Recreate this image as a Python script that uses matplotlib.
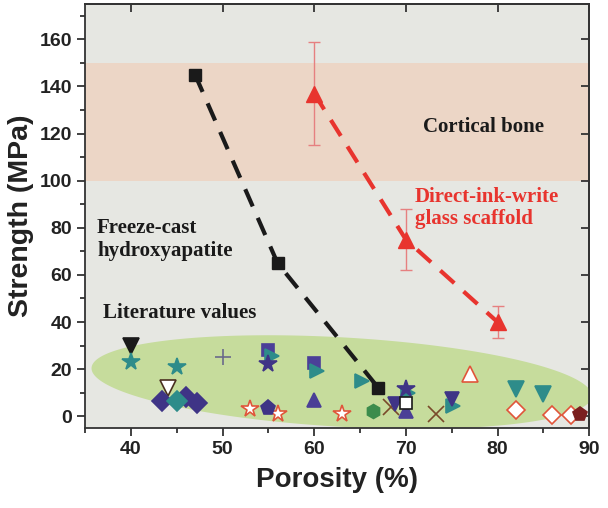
import numpy as np
import matplotlib.pyplot as plt
from matplotlib.ticker import MultipleLocator

# freeze-cast hydroxyapatite
fc_por = [47, 56, 67]
fc_str = [145, 65, 12]

# direct-ink-write glass scaffold
diw_por = [60, 70, 80]
diw_str = [137, 75, 40]
diw_err = [22, 13, 7]

# literature values, grouped by marker style
lit_black_dn = ([40], [30])
lit_teal_star = ([40, 45], [23, 21])
lit_plus = ([50], [25])
lit_white_dn = ([44], [12])
lit_purple_diamond = ([43.4, 46, 47.2], [6.5, 8, 5.5])
lit_teal_diamond = ([45], [6.5])
lit_white_star = ([53, 56, 63], [3, 1, 1])
lit_purple_square = ([55, 60], [28, 22.5])
lit_teal_right = ([55.4, 60.3, 65.2, 70.2, 75.1], [25.5, 19, 15, 10, 4.5])
lit_purple_star = ([55, 70], [22, 11.5])
lit_purple_up = ([60, 70], [7, 2.3])
lit_purple_pent = ([55], [3.4])
lit_green_hex = ([66.4], [2.3])
lit_brown_x = ([68.4, 73.3], [3.8, 1])
lit_purple_dn = ([68.8, 75], [5, 7.2])
lit_white_square = ([70], [5.5])
lit_white_up = ([77], [18])
lit_teal_dn = ([82, 85], [11.5, 9.6])
lit_white_diamond = ([82, 86, 88], [2.5, 0.5, 0.5])
lit_darkred_pent = ([89], [0.8])

bone_range = (100, 150)

BG = '#e6e7e2'
PEACH = '#ecd6c6'
GREEN = '#c6dc9c'
PURPLE = '#3f3486'
TEAL = '#2e8c8a'
RED = '#e8342e'
REDEDGE = '#e0553a'

plt.rcParams['font.family'] = ['Liberation Sans', 'DejaVu Sans']

fig = plt.figure(figsize=(6.08, 5.08), dpi=100)
ax = fig.add_axes([0.14, 0.1575, 0.829, 0.8345])
ax.set_facecolor(BG)
ax.set_xlim(35, 90)
ax.set_ylim(-5, 175)

ax.axhspan(*bone_range, color=PEACH, zorder=0, lw=0)

# tilted literature ellipse
cx, cy, ax_half, ay_half, slope = 63, 14.5, 27.3, 19.0, -0.214
t = np.linspace(0, 2 * np.pi, 300)
ex = cx + ax_half * np.cos(t)
ey = cy + ay_half * np.sin(t) + slope * (ex - cx)
ax.fill(ex, ey, color=GREEN, lw=0, zorder=1)

ax.plot(fc_por, fc_str, color='#1a1a1a', lw=3, dashes=(4.5, 3), zorder=3)
ax.plot(fc_por, fc_str, 's', color='#1a1a1a', ms=8, zorder=4)

ax.plot(diw_por, diw_str, color=RED, lw=3, dashes=(4.5, 3), zorder=3)
ax.errorbar(diw_por, diw_str, yerr=diw_err, fmt='none', ecolor='#e68080',
            elinewidth=1, capsize=4, capthick=1, zorder=3)
ax.plot(diw_por, diw_str, '^', color=RED, ms=11, zorder=4)

styles = [
    (lit_black_dn, 'v', '#1a1a1a', '#1a1a1a', 11),
    (lit_teal_star, '*', TEAL, TEAL, 13),
    (lit_plus, '+', '#6a6a8a', '#6a6a8a', 12),
    (lit_white_dn, 'v', 'white', '#4a3020', 11),
    (lit_purple_diamond, 'D', PURPLE, PURPLE, 10),
    (lit_teal_diamond, 'D', TEAL, TEAL, 10),
    (lit_white_star, '*', 'white', REDEDGE, 13),
    (lit_purple_square, 's', '#4b3f98', '#4b3f98', 9),
    (lit_teal_right, '>', TEAL, TEAL, 10),
    (lit_purple_star, '*', PURPLE, PURPLE, 13),
    (lit_purple_up, '^', '#4a3f96', '#4a3f96', 10),
    (lit_purple_pent, 'p', PURPLE, PURPLE, 11),
    (lit_green_hex, 'h', '#3b8c4c', '#3b8c4c', 10),
    (lit_brown_x, 'x', '#7a4a2a', '#7a4a2a', 11),
    (lit_purple_dn, 'v', PURPLE, PURPLE, 10),
    (lit_white_square, 's', 'white', '#1a1a1a', 9),
    (lit_white_up, '^', 'white', REDEDGE, 11),
    (lit_teal_dn, 'v', TEAL, TEAL, 11),
    (lit_white_diamond, 'D', 'white', REDEDGE, 9),
    (lit_darkred_pent, 'p', '#7a1f1f', '#7a1f1f', 10),
]
for (xs, ys), m, fc, ec, ms in styles:
    ax.plot(xs, ys, m, mfc=fc, mec=ec, ms=ms, mew=1.2, zorder=5,
            linestyle='none')

serif = dict(family=['Liberation Serif', 'DejaVu Serif'], weight='bold', fontsize=15)
ax.text(78.5, 123, 'Cortical bone', ha='center', va='center', color='#1a1a1a', **serif)
ax.text(71, 88.5, 'Direct-ink-write\nglass scaffold', ha='left', va='center',
        color=RED, linespacing=1.15, **serif)
ax.text(36.3, 75, 'Freeze-cast\nhydroxyapatite', ha='left', va='center',
        color='#1a1a1a', linespacing=1.15, **serif)
ax.text(37, 44, 'Literature values', ha='left', va='center', color='#1a1a1a', **serif)

ax.xaxis.set_major_locator(MultipleLocator(10))
ax.xaxis.set_minor_locator(MultipleLocator(5))
ax.yaxis.set_major_locator(MultipleLocator(20))
ax.yaxis.set_minor_locator(MultipleLocator(10))
ax.tick_params(which='both', direction='out', color='#333333', width=1.3,
               labelsize=14)
ax.tick_params(which='major', length=6)
ax.tick_params(which='minor', length=3.5)
for lab in ax.get_xticklabels() + ax.get_yticklabels():
    lab.set_fontweight('bold')
    lab.set_color('#222222')

# mirrored inward ticks on top/right
top = ax.secondary_xaxis('top')
top.xaxis.set_major_locator(MultipleLocator(10))
top.tick_params(direction='in', length=6, width=1.3, labeltop=False, color='#333333')
right = ax.secondary_yaxis('right')
right.yaxis.set_major_locator(MultipleLocator(20))
right.tick_params(direction='in', length=6, width=1.3, labelright=False, color='#333333')

for sp in list(ax.spines.values()) + [top.spines['top'], right.spines['right']]:
    sp.set_linewidth(1.3)
    sp.set_color('#333333')

ax.set_xlabel('Porosity (%)', fontsize=20, fontweight='bold', color='#222222', labelpad=6)
ax.set_ylabel('Strength (MPa)', fontsize=20.5, fontweight='bold', color='#222222', labelpad=4)

fig.savefig('out.png', dpi=100)
